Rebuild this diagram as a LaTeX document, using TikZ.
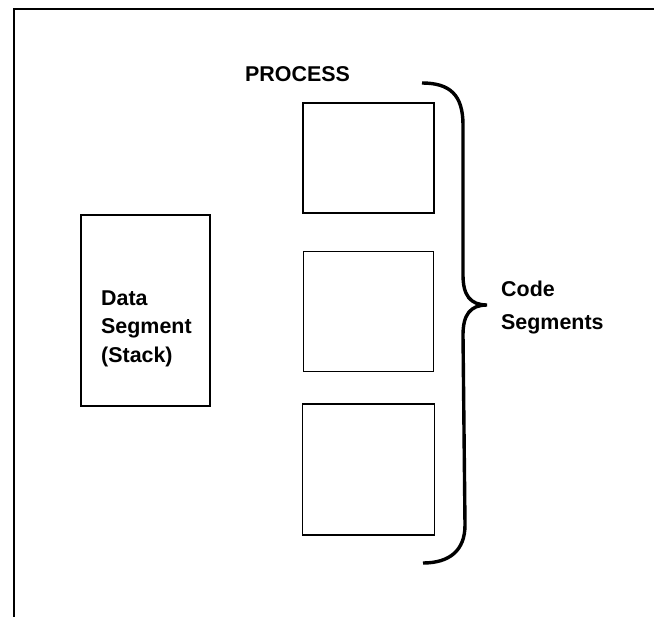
\documentclass[tikz,border=0pt]{standalone}
\usepackage{fontspec}
\setmainfont{Liberation Sans}
\usetikzlibrary{positioning}

\begin{document}
\begin{tikzpicture}[
  x=1bp, y=-1bp,
  segbox/.style={draw, line width=1.6bp, inner sep=0pt},
  lbl/.style={font=\bfseries\fontsize{21.5}{28.5}\selectfont, align=left, inner sep=0pt},
  frame/.style={line width=2.6bp}
]
\useasboundingbox (0,0) rectangle (654,617);

% outer frame (open at the right and bottom)
\draw[frame] (14,617) -- (14,9) -- (654,9);

% code segments
\node[segbox, minimum width=131bp, minimum height=110bp] (seg1) at (368.5,158) {};
\node[segbox, minimum width=130bp, minimum height=120bp, below=37bp of seg1] (seg2) {};
\node[segbox, minimum width=132bp, minimum height=131bp, below=31bp of seg2] (seg3) {};

% data segment
\node[segbox, minimum width=129bp, minimum height=191bp] (data) at (145.5,310.5) {};
\node[lbl, anchor=base west] (datatxt) at (101,362) {Data\\Segment\\(Stack)};

\node[lbl, anchor=base west] (proc) at (245,82) {PROCESS};

% brace
\coordinate (btop) at (422,83);
\coordinate (btip) at (487,305);
\coordinate (bbot) at (423,563);
\draw[line width=3.4bp]
  (btop) .. controls (450,83) and (463,95) .. (463,125)
  -- (463,275) .. controls (463,295) and (470,305) .. (btip)
  .. controls (470,305) and (463,315) .. (463,335)
  -- (465,525) .. controls (465,550) and (450,563) .. (bbot);
\node[lbl, font=\bfseries\fontsize{21.5}{32.5}\selectfont, anchor=base west] (codetxt) at (501,329) {Code\\Segments};
\end{tikzpicture}
\end{document}
